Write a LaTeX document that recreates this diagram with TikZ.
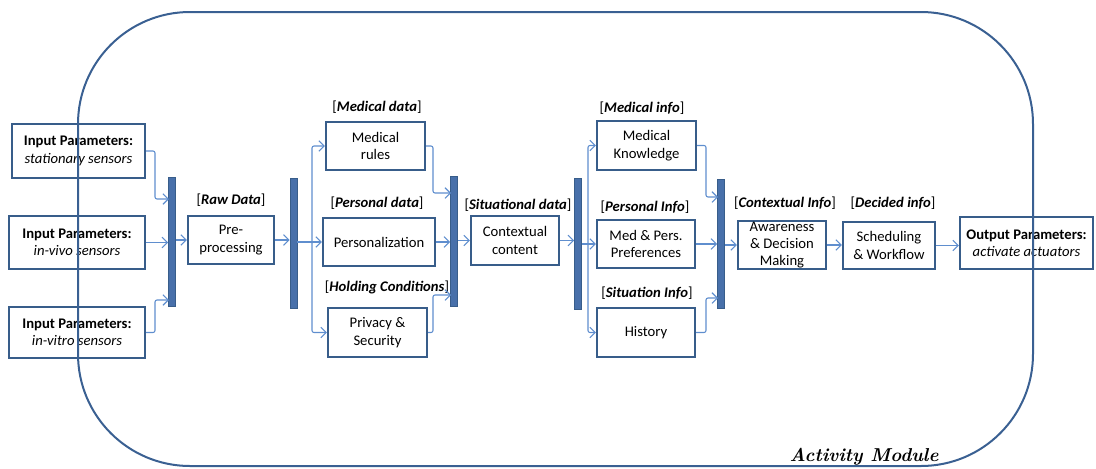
\documentclass[tikz,border=0pt]{standalone}
\usepackage{fontspec}
\newfontfamily\carl{Carlito}
\usetikzlibrary{arrows.meta,calc}
\definecolor{boxblue}{RGB}{56,93,138}
\definecolor{barblue}{RGB}{72,112,170}
\definecolor{connblue}{RGB}{95,142,206}
\definecolor{ringblue}{RGB}{58,96,146}
\tikzset{
  box/.style={draw=boxblue, line width=1.6pt, fill=white, inner sep=0pt, align=center,
    font=\carl\fontsize{11}{13}\selectfont},
  sz/.style 2 args={minimum width=#1*0.75pt, minimum height=#2*0.75pt},
  bar/.style={draw=boxblue, fill=barblue, line width=0.6pt, inner sep=0pt},
  lbl/.style={inner sep=0pt, font=\carl\fontsize{11}{13}\selectfont},
  conn/.style={draw=connblue, line width=0.8pt, rounded corners=1.5pt,
    -{Straight Barb[length=4pt,width=8pt]}},
  ring/.style={draw=ringblue, line width=1.5pt, rounded corners=84pt}
}
\newcommand{\lb}[1]{[\textbf{\textit{#1}}]}
\begin{document}
\begin{tikzpicture}[x=0.75pt,y=-0.75pt]
\useasboundingbox (0,0) rectangle (1096,468);

% input boxes
\node[box, sz={133}{54}] (in1) at (78.5,151) {\textbf{Input Parameters:}\\\textit{stationary sensors}};
\node[box, sz={136}{53}] (in2) at (77,242.5) {\textbf{Input Parameters:}\\\textit{in-vivo sensors}};
\node[box, sz={136}{51}] (in3) at (77,332.5) {\textbf{Input Parameters:}\\\textit{in-vitro sensors}};

% bars
\node[bar, sz={7}{129}] (bar1) at (172,241.5) {};
\node[bar, sz={7}{130}] (bar2) at (293.5,243) {};
\node[bar, sz={7}{130}] (bar3) at (454,241) {};
\node[bar, sz={7}{131}] (bar4) at (578,243.5) {};
\node[bar, sz={7}{129}] (bar5) at (721,243.5) {};

% process boxes
\node[box, sz={86}{48}] (pre) at (231,240) {Pre-\\processing};
\node[box, sz={99}{48}] (med) at (375.5,146) {Medical\\rules};
\node[box, sz={112}{48}] (pers) at (379,242) {Personalization};
\node[box, sz={99}{49}] (priv) at (377.5,332.5) {Privacy \&\\Security};
\node[box, sz={88}{49}] (ctx) at (515,240.5) {Contextual\\content};
\node[box, sz={99}{49}] (medk) at (646.5,145.5) {Medical\\Knowledge};
\node[box, sz={98}{48}] (medp) at (646,244) {Med \& Pers.\\Preferences};
\node[box, sz={98}{49}] (hist) at (646,332.5) {History};
\node[box, sz={88}{48}] (aware) at (782,245) {Awareness\\\& Decision\\Making};
\node[box, sz={92}{47}] (sched) at (889,245.5) {Scheduling\\\& Workflow};
\node[box, sz={133}{52}] (out) at (1026.5,243) {\textbf{Output Parameters:}\\\textit{activate actuators}};

% labels
\node[lbl] (lraw) at (231,200) {\lb{Raw Data}};
\node[lbl] (lmed) at (377,107) {\lb{Medical data}};
\node[lbl] (lpers) at (377,203) {\lb{Personal data}};
\node[lbl] (lhold) at (387,287) {\lb{Holding Conditions}};
\node[lbl] (lsit) at (518,205) {\lb{Situational data}};
\node[lbl] (lmedi) at (642,108) {\lb{Medical info}};
\node[lbl] (lpersi) at (645,207) {\lb{Personal Info}};
\node[lbl] (lsiti) at (647,293) {\lb{Situation Info}};
\node[lbl] (lctx) at (785,203) {\lb{Contextual Info}};
\node[lbl] (ldec) at (893,203) {\lb{Decided info}};

% junction coordinates
\coordinate (b1a) at (169,199);
\coordinate (b1c) at (169,300);
\coordinate (s2) at (312,243);
\coordinate (b3a) at (451,193);
\coordinate (b3c) at (451,295);
\coordinate (s4) at (588,244);
\coordinate (b5a) at (718,197);
\coordinate (b5c) at (718,298);

% connectors
\draw[conn] (in1.east) -| (155,199) -- (b1a);
\draw[conn] (in2.east) -- (in2.east -| bar1.west);
\draw[conn] (in3.east) -| (155,300) -- (b1c);
\draw[conn] (bar1.east |- pre.west) -- (pre.west);
\draw[conn] (pre.east) -- (pre.east -| bar2.west);
\draw[conn] (bar2.east |- pers.west) -- (pers.west);
\draw[conn] (s2) |- (med.west);
\draw[conn] (s2) |- (priv.west);
\draw[conn] (med.east) -| (433,193) -- (b3a);
\draw[conn] (pers.east) -- (pers.east -| bar3.west);
\draw[conn] (priv.east) -| (433,295) -- (b3c);
\draw[conn] (bar3.east |- ctx.west) -- (ctx.west);
\draw[conn] (ctx.east) -- (ctx.east -| bar4.west);
\draw[conn] (bar4.east |- medp.west) -- (medp.west);
\draw[conn] (s4) |- (medk.west);
\draw[conn] (s4) |- (hist.west);
\draw[conn] (medk.east) -| (706,197) -- (b5a);
\draw[conn] (medp.east) -- (medp.east -| bar5.west);
\draw[conn] (hist.east) -| (706,298) -- (b5c);
\draw[conn] (bar5.east |- aware.west) -- (aware.west);
\draw[conn] (aware.east) -- (aware.east -| sched.west);
\draw[conn] (sched.east) -- (sched.east -| out.west);

% module outline
\draw[ring] (78,12) rectangle (1033,466);
\node[inner sep=0pt, anchor=base, font=\fontsize{14}{14}\selectfont\bfseries\itshape] (mod) at (864,461) {Activity Module};
\end{tikzpicture}
\end{document}
